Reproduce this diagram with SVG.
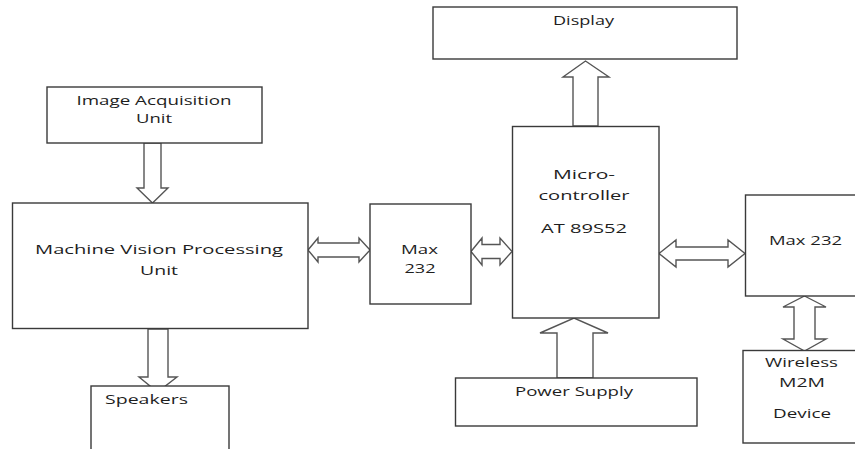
<svg xmlns="http://www.w3.org/2000/svg" width="855" height="449" viewBox="0 0 855 449">
<style>
.box{fill:#fff;stroke:#3a3a3a;stroke-width:1.4}
.arr{fill:#fff;stroke:#555;stroke-width:1.4;stroke-linejoin:miter}
text{font-family:"Open Sans","Liberation Sans",sans-serif;font-size:13.5px;fill:#1e1e1e;text-anchor:middle}
</style>
<rect width="855" height="449" fill="#fff"/>
<g id="connectors">
<path class="arr" d="M144,143 L161,143 L161,188 L168,188 L152.5,203 L137,188 L144,188 Z"/>
<path class="arr" d="M148,329 L168,329 L168,377 L177,377 L157.5,392 L139,377 L148,377 Z"/>
<path class="arr" d="M573,126 L598,126 L598,77 L609,77 L585.5,61 L563,77 L573,77 Z"/>
<path class="arr" d="M557,378 L593,378 L593,333 L608,333 L574,318 L540,333 L557,333 Z"/>
<path class="arr" d="M308,250 L318,238 L318,243 L359,243 L359,238 L370,250 L359,262 L359,257 L318,257 L318,262 Z"/>
<path class="arr" d="M471,251.5 L482,238 L482,244.5 L500,244.5 L500,238 L512,251.5 L500,265 L500,258.5 L482,258.5 L482,265 Z"/>
<path class="arr" d="M659,253.5 L676,240 L676,247 L728,247 L728,240 L745,253.5 L728,267 L728,260 L676,260 L676,267 Z"/>
<path class="arr" d="M804.5,296 L826,307 L815,307 L815,339 L826,339 L804.5,351 L783,339 L794,339 L794,307 L783,307 Z"/>
</g>
<g id="image-acquisition">
<rect class="box" x="47" y="87" width="215" height="56"/>
<text x="154" y="105" textLength="155" lengthAdjust="spacingAndGlyphs">Image Acquisition</text>
<text x="154" y="123" textLength="36" lengthAdjust="spacingAndGlyphs">Unit</text>
</g>
<g id="machine-vision">
<rect class="box" x="12.5" y="203" width="295.5" height="125.5"/>
<text x="159" y="254" textLength="248" lengthAdjust="spacingAndGlyphs">Machine Vision Processing</text>
<text x="159" y="275" textLength="38" lengthAdjust="spacingAndGlyphs">Unit</text>
</g>
<g id="speakers">
<rect class="box" x="91" y="386" width="138" height="80"/>
<text x="146.5" y="404" textLength="83" lengthAdjust="spacingAndGlyphs">Speakers</text>
</g>
<g id="display">
<rect class="box" x="433" y="7" width="304" height="52"/>
<text x="583.5" y="25" textLength="61" lengthAdjust="spacingAndGlyphs">Display</text>
</g>
<g id="microcontroller">
<rect class="box" x="512.5" y="126.5" width="146.5" height="191.5"/>
<text x="584" y="179" textLength="62" lengthAdjust="spacingAndGlyphs">Micro-</text>
<text x="584" y="200" textLength="91" lengthAdjust="spacingAndGlyphs">controller</text>
<text x="584" y="233" textLength="86" lengthAdjust="spacingAndGlyphs">AT 89S52</text>
</g>
<g id="max232-left">
<rect class="box" x="370" y="204" width="101" height="100"/>
<text x="419.5" y="254" textLength="37" lengthAdjust="spacingAndGlyphs">Max</text>
<text x="420" y="273" textLength="31" lengthAdjust="spacingAndGlyphs">232</text>
</g>
<g id="max232-right">
<rect class="box" x="745.5" y="195" width="120" height="101"/>
<text x="805.5" y="245" textLength="73" lengthAdjust="spacingAndGlyphs">Max 232</text>
</g>
<g id="wireless-m2m">
<rect class="box" x="743" y="350.5" width="122" height="92.5"/>
<text x="801.5" y="367" textLength="73" lengthAdjust="spacingAndGlyphs">Wireless</text>
<text x="802" y="387" textLength="46" lengthAdjust="spacingAndGlyphs">M2M</text>
<text x="802" y="418" textLength="58" lengthAdjust="spacingAndGlyphs">Device</text>
</g>
<g id="power-supply">
<rect class="box" x="455.5" y="378" width="241.5" height="48"/>
<text x="574" y="396" textLength="118" lengthAdjust="spacingAndGlyphs">Power Supply</text>
</g>
</svg>
